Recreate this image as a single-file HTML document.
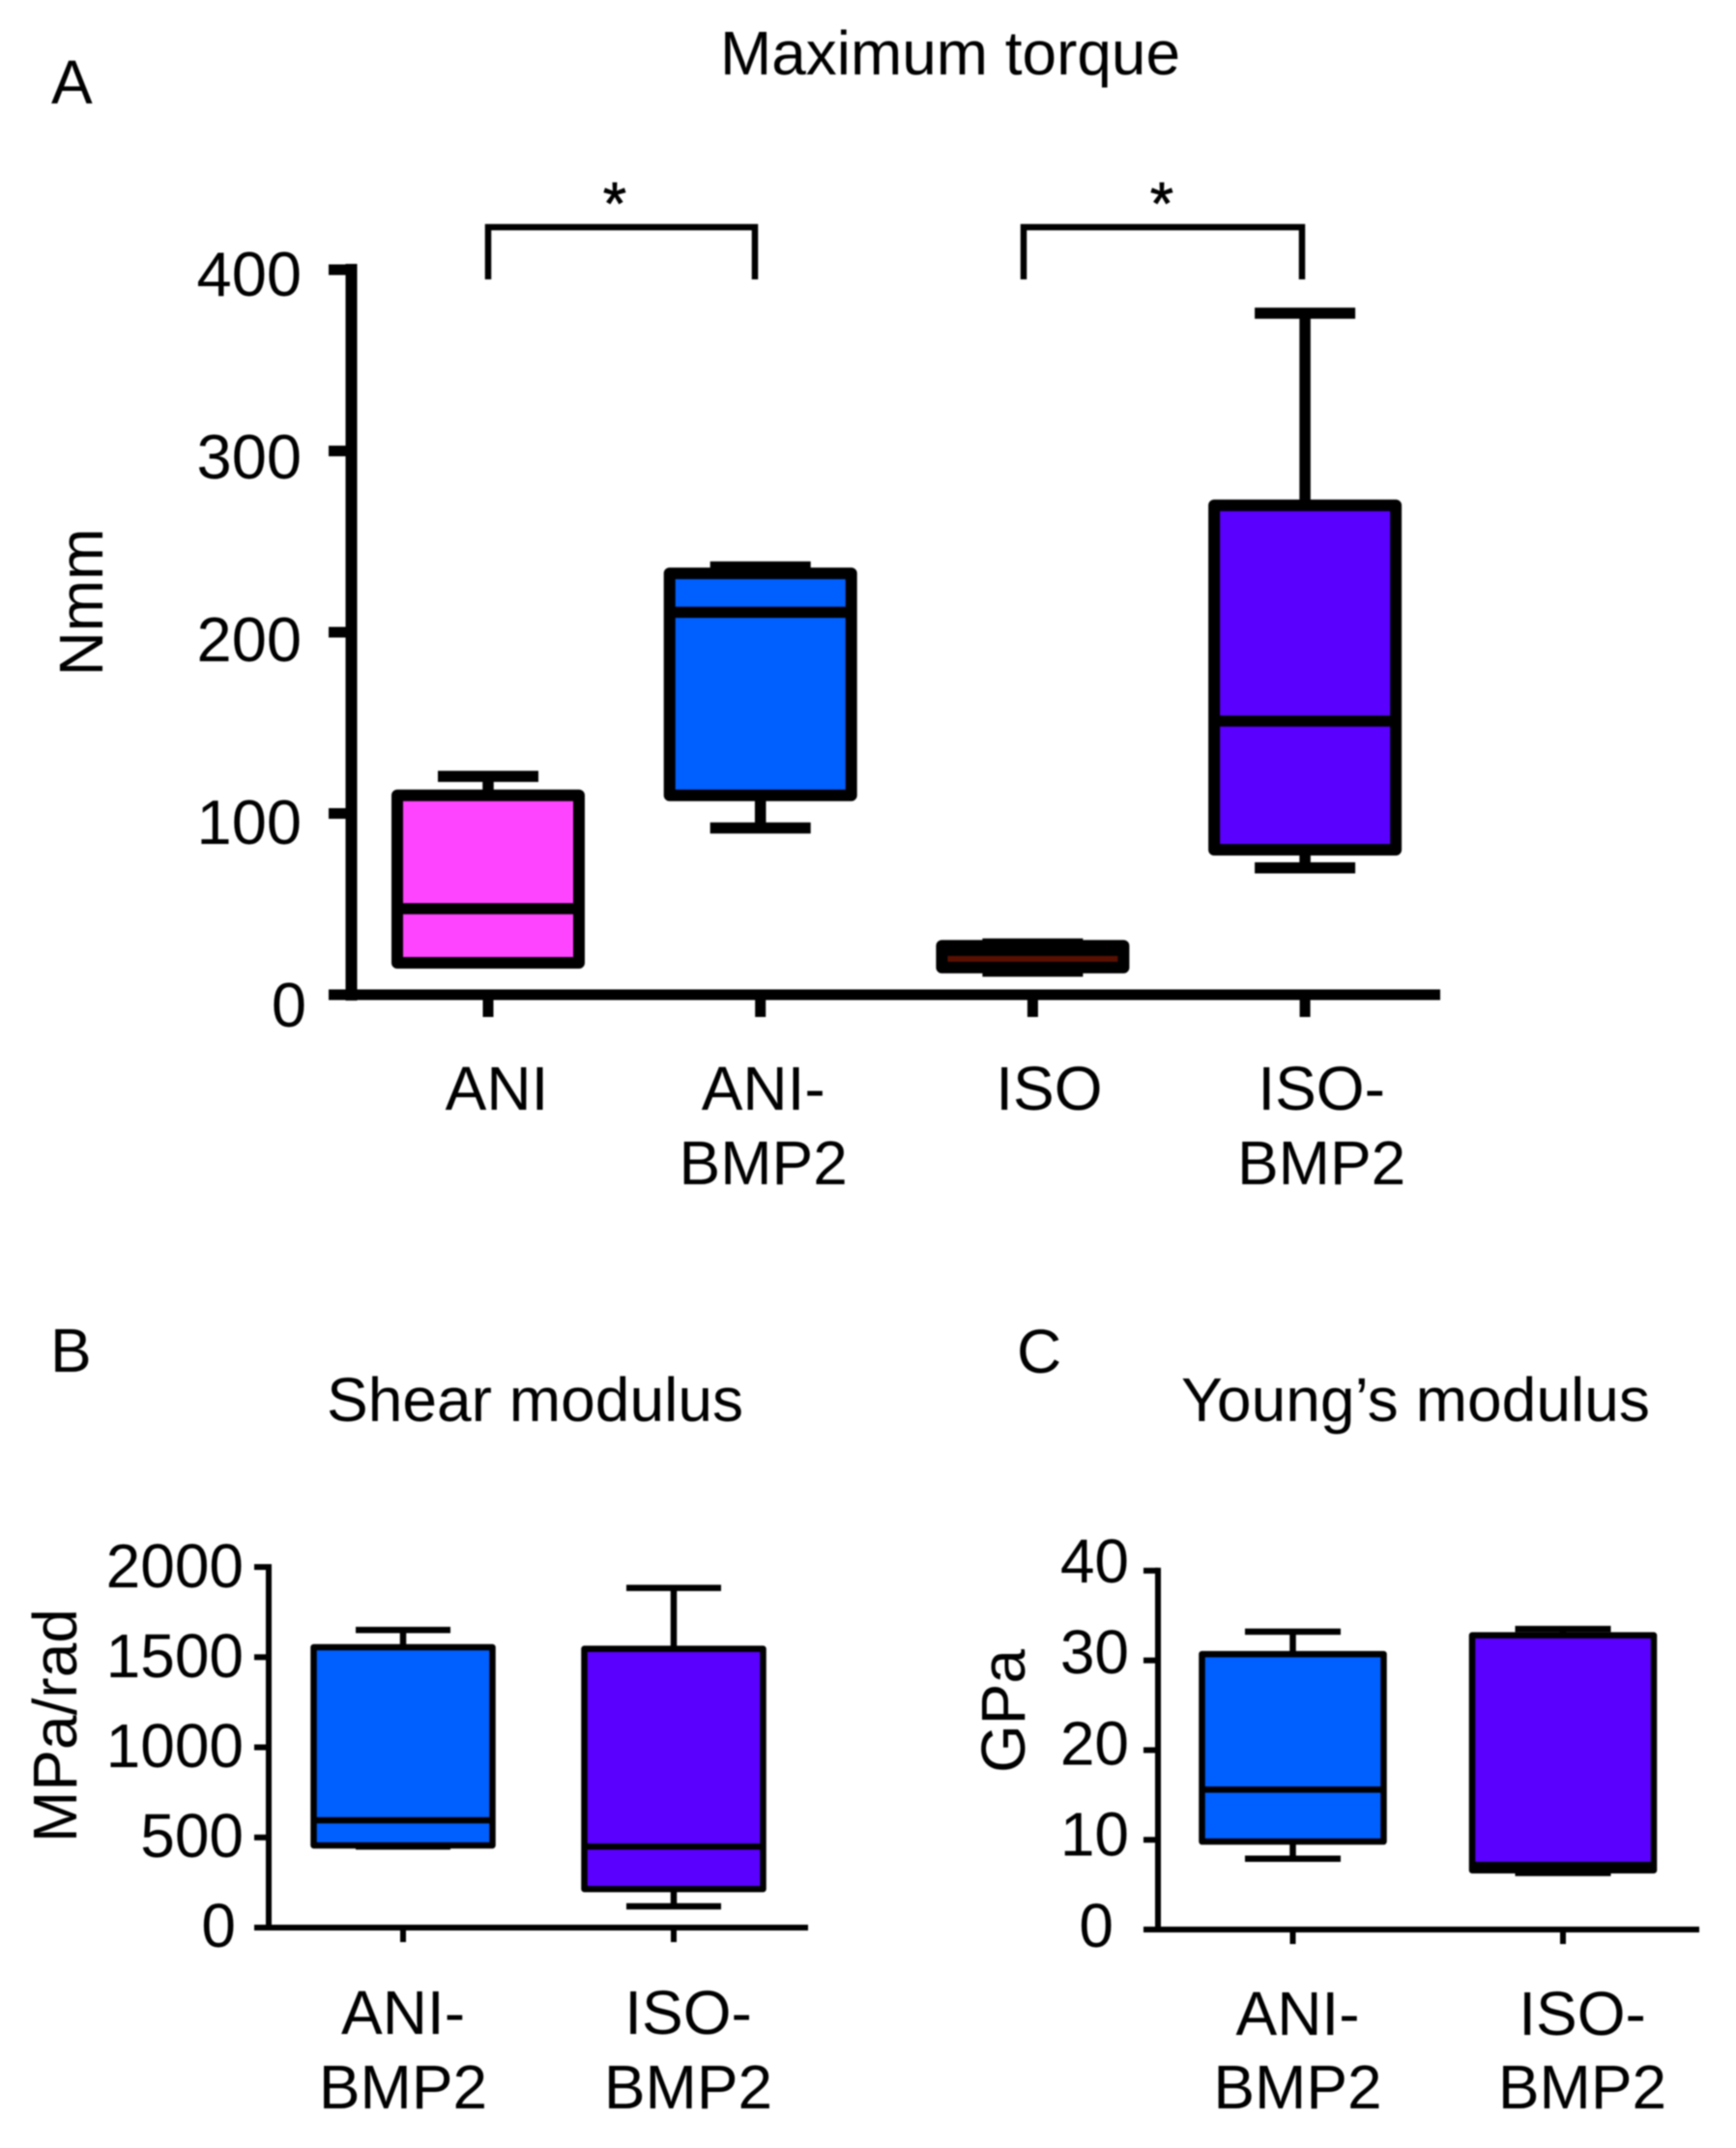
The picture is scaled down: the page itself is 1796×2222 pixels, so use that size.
<!DOCTYPE html>
<html lang="en">
<head>
<meta charset="utf-8">
<title>Maximum torque, shear modulus and Young's modulus box plots</title>
<style>
html,body{margin:0;padding:0;background:#fff;}
#figure{display:block;width:1796px;height:2222px;filter:blur(0.9px);}
text{font-family:"Liberation Sans",Arial,sans-serif;fill:#000;}
</style>
</head>
<body>
<svg id="figure" xmlns="http://www.w3.org/2000/svg" width="1796" height="2222" viewBox="0 0 1796 2222">
  <rect x="0" y="0" width="1796" height="2222" fill="#fff"/>
  <text x="53" y="107" font-size="64">A</text>
  <text x="745" y="77" font-size="64" textLength="476" lengthAdjust="spacingAndGlyphs">Maximum torque</text>
  <text x="52" y="1419" font-size="64">B</text>
  <text x="338" y="1470" font-size="64" textLength="431" lengthAdjust="spacingAndGlyphs">Shear modulus</text>
  <text x="1052" y="1420" font-size="64">C</text>
  <text x="1222" y="1470" font-size="64" textLength="485" lengthAdjust="spacingAndGlyphs">Young’s modulus</text>
  <text transform="translate(106 623) rotate(-90)" text-anchor="middle" font-size="64">Nmm</text>
  <text transform="translate(79 1785) rotate(-90)" text-anchor="middle" font-size="64">MPa/rad</text>
  <text transform="translate(1060 1770) rotate(-90)" text-anchor="middle" font-size="64">GPa</text>
  <g>
    <path d="M505 289V235H781V289" fill="none" stroke="#000" stroke-width="6.5"/>
    <text x="636" y="232" text-anchor="middle" font-size="62" stroke="#000" stroke-width="0.8">*</text>
  </g>
  <g>
    <path d="M1059 289V235H1347V289" fill="none" stroke="#000" stroke-width="6.5"/>
    <text x="1202" y="232" text-anchor="middle" font-size="62" stroke="#000" stroke-width="0.8">*</text>
  </g>
</svg>
<script>
// Panel A: maximum torque (Nmm)
const torqueCategories = [["ANI"], ["ANI-", "BMP2"], ["ISO"], ["ISO-", "BMP2"]];
const torqueMax = [120.5, 236, 28, 376];
const torqueQ3 = [110, 232.5, 27, 270];
const torqueMedian = [47.5, 211, 24.5, 151];
const torqueQ1 = [17.6, 110, 15, 80];
const torqueMin = [17.6, 92, 13, 70];
const torqueTicks = [0, 100, 200, 300, 400];

// Panel B: shear modulus (MPa/rad)
const shearCategories = [["ANI-", "BMP2"], ["ISO-", "BMP2"]];
const shearMax = [1651, 1884];
const shearQ3 = [1555, 1546];
const shearMedian = [595, 450];
const shearQ1 = [456, 214];
const shearMin = [450, 118];
const shearTicks = [0, 500, 1000, 1500, 2000];

// Panel C: Young's modulus (GPa)
const youngCategories = [["ANI-", "BMP2"], ["ISO-", "BMP2"]];
const youngMax = [33.2, 33.5];
const youngQ3 = [30.7, 32.8];
const youngMedian = [15.6, 7.2];
const youngQ1 = [9.8, 6.6];
const youngMin = [7.9, 6.3];
const youngTicks = [0, 10, 20, 30, 40];

const SVG_NS = "http://www.w3.org/2000/svg";
const figure = document.getElementById("figure");

function mk(parent, tag, attrs) {
  const el = document.createElementNS(SVG_NS, tag);
  for (const k in attrs) el.setAttribute(k, attrs[k]);
  parent.appendChild(el);
  return el;
}
function slug(lines) {
  return lines.join("").toLowerCase().replace(/[^a-z0-9]+/g, "-");
}

function drawPanel(p) {
  const yScale = v => p.y0 - v * p.yUnit;
  const xScale = i => p.x0 + i * p.xStep;
  const labelY = v => p.labelY0 - v * p.labelUnit;

  const panel = mk(figure, "g", {});
  
  

  p.max.forEach((_, i) => {
    const cx = xScale(i);
    const catName = slug(p.categories[i]);
    const box = mk(panel, "g", {});
    
    

    const whisker = mk(box, "line", {x1: cx, x2: cx, y1: yScale(p.max[i]), y2: yScale(p.min[i]), stroke: "#000", "stroke-width": p.whiskerWidth});
    
    

    const capTop = mk(box, "line", {x1: cx - p.capHalf, x2: cx + p.capHalf, y1: yScale(p.max[i]), y2: yScale(p.max[i]), stroke: "#000", "stroke-width": p.whiskerWidth});
    
    

    const capBottom = mk(box, "line", {x1: cx - p.capHalf, x2: cx + p.capHalf, y1: yScale(p.min[i]), y2: yScale(p.min[i]), stroke: "#000", "stroke-width": p.whiskerWidth});
    
    

    const rect = mk(box, "rect", {x: cx - p.boxHalf, y: yScale(p.q3[i]), width: p.boxHalf * 2, height: yScale(p.q1[i]) - yScale(p.q3[i]), fill: p.fills[i], stroke: "#000", "stroke-width": p.boxStroke, "stroke-linejoin": "round"});
    
    

    const median = mk(box, "line", {x1: cx - p.boxHalf, x2: cx + p.boxHalf, y1: yScale(p.median[i]), y2: yScale(p.median[i]), stroke: "#000", "stroke-width": p.whiskerWidth});
    
    
  });

  const yTop = yScale(p.ticks[p.ticks.length - 1]);
  const yAxis = mk(panel, "line", {x1: p.axisX, x2: p.axisX, y1: yTop - p.axisStroke / 2, y2: p.y0 + p.axisStroke / 2, stroke: "#000", "stroke-width": p.axisStroke});
  
  

  const xAxis = mk(panel, "line", {x1: p.tickLeft, x2: p.axisRight, y1: p.y0, y2: p.y0, stroke: "#000", "stroke-width": p.xAxisStroke});
  
  

  p.ticks.forEach(t => {
    const tick = mk(panel, "line", {x1: p.tickLeft, x2: p.axisX, y1: yScale(t), y2: yScale(t), stroke: "#000", "stroke-width": p.xAxisStroke});
    
    

    const label = mk(panel, "text", {x: p.tickLabelX + (t === 0 ? p.zeroDx : 0), y: labelY(t), "text-anchor": "end", "font-size": p.tickFont});
    label.textContent = String(t);
    
    
  });

  p.categories.forEach((lines, i) => {
    const cx = xScale(i);
    const tick = mk(panel, "line", {x1: cx, x2: cx, y1: p.y0, y2: p.y0 + p.xTickLen, stroke: "#000", "stroke-width": p.xTickStroke});
    
    

    lines.forEach((line, j) => {
      const label = mk(panel, "text", {x: cx + p.labelDx[i], y: p.xLabelBase + j * p.xLabelLead, "text-anchor": "middle", "font-size": 64});
      label.textContent = line;
      
      
    });
  });
}

const BLUE = "#0060ff", PURPLE = "#5a00ff", MAGENTA = "#ff44ff", DARKRED = "#5a1000";

drawPanel({
  name: "panel-a", categories: torqueCategories, ticks: torqueTicks,
  max: torqueMax, q3: torqueQ3, median: torqueMedian, q1: torqueQ1, min: torqueMin,
  fills: [MAGENTA, BLUE, DARKRED, PURPLE],
  y0: 1029, yUnit: 1.875, x0: 505, xStep: 281.7,
  labelY0: 1062, labelUnit: 1.89,
  axisX: 363.5, axisRight: 1490, tickLeft: 340, axisStroke: 12, xAxisStroke: 11,
  boxHalf: 94, capHalf: 52, boxStroke: 12, whiskerWidth: 11.5,
  xTickLen: 23, xTickStroke: 11, tickLabelX: 312, zeroDx: 5, tickFont: 65,
  labelDx: [9, 3, 17, 17], xLabelBase: 1148, xLabelLead: 77
});

drawPanel({
  name: "panel-b", categories: shearCategories, ticks: shearTicks,
  max: shearMax, q3: shearQ3, median: shearMedian, q1: shearQ1, min: shearMin,
  fills: [BLUE, PURPLE],
  y0: 1994, yUnit: 0.1865, x0: 417, xStep: 280,
  labelY0: 2014, labelUnit: 0.186,
  axisX: 278, axisRight: 836, tickLeft: 263, axisStroke: 6, xAxisStroke: 6,
  boxHalf: 92.5, capHalf: 49, boxStroke: 6.5, whiskerWidth: 6.5,
  xTickLen: 15, xTickStroke: 6, tickLabelX: 252, zeroDx: -8, tickFont: 64,
  labelDx: [0, 15], xLabelBase: 2104, xLabelLead: 77
});

drawPanel({
  name: "panel-c", categories: youngCategories, ticks: youngTicks,
  max: youngMax, q3: youngQ3, median: youngMedian, q1: youngQ1, min: youngMin,
  fills: [BLUE, PURPLE],
  y0: 1996, yUnit: 9.28, x0: 1337.5, xStep: 279.5,
  labelY0: 2014, labelUnit: 9.43,
  axisX: 1198, axisRight: 1758, tickLeft: 1183, axisStroke: 6, xAxisStroke: 6,
  boxHalf: 94, capHalf: 49.5, boxStroke: 6.5, whiskerWidth: 6.5,
  xTickLen: 15, xTickStroke: 6, tickLabelX: 1168, zeroDx: -16, tickFont: 64,
  labelDx: [5, 20], xLabelBase: 2105, xLabelLead: 76
});
</script>
</body>
</html>
